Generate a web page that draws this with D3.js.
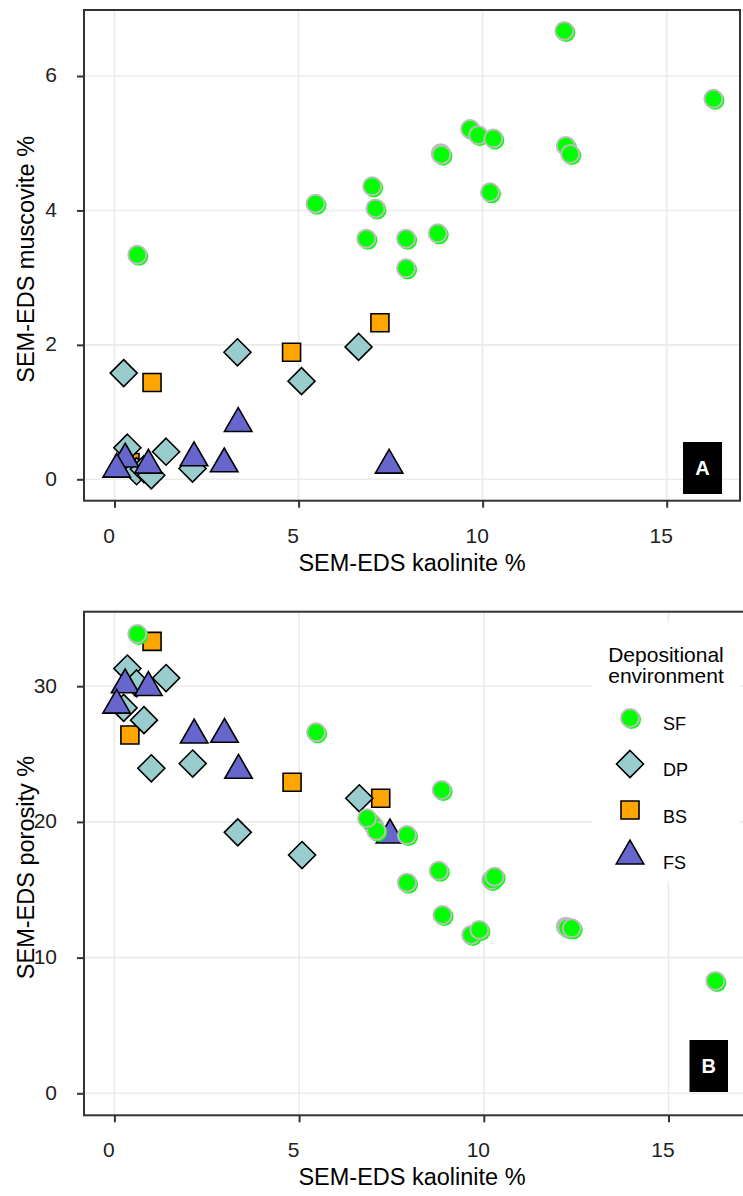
<!DOCTYPE html>
<html>
<head>
<meta charset="utf-8">
<script src="https://cdn.jsdelivr.net/npm/d3@7"></script>
<style>
  html, body { margin: 0; padding: 0; background: #fff; }
  svg { display: block; font-family: "Liberation Sans", Arial, sans-serif; }
</style>
</head>
<body>
<svg id="chart" width="743" height="1196"></svg>
<script>
// ---- data: one entry per sample, grouped by depositional environment ----
// SF
const sfKaolinite = [0.62, 5.46, 7.00, 7.09, 6.84, 7.92, 7.92, 8.78, 8.86, 8.88, 9.66, 9.88, 10.20, 10.29, 12.22, 12.26, 12.38, 16.27];
const sfMuscovite = [3.34, 4.10, 4.36, 4.03, 3.58, 3.58, 3.14, 3.66, 4.85, 4.83, 5.21, 5.12, 4.27, 5.07, 6.67, 4.96, 4.84, 5.66];
const sfPorosity  = [33.85, 26.6, 19.8, 19.35, 20.27, 19.03, 15.52, 16.4, 22.35, 13.14, 11.67, 12.04, 15.72, 15.96, 12.28, 12.2, 12.16, 8.28];
// DP
const dpKaolinite = [0.25, 0.35, 0.60, 0.80, 1.00, 1.40, 2.12, 3.34, 5.08, 6.63];
const dpMuscovite = [1.58, 0.47, 0.12, 0.15, 0.06, 0.41, 0.16, 1.89, 1.46, 1.97];
const dpPorosity  = [28.4, 31.3, 30.2, 27.5, 23.95, 30.6, 24.3, 19.23, 17.56, 21.74];
// BS
const bsKaolinite = [1.02, 0.42, 4.81, 7.21];
const bsMuscovite = [1.44, 0.25, 1.89, 2.33];
const bsPorosity  = [33.3, 26.4, 22.92, 21.74];
// FS
const fsKaolinite = [0.29, 0.06, 0.92, 2.16, 2.98, 3.36, 7.46];
const fsMuscovite = [0.30, 0.15, 0.21, 0.32, 0.23, 0.83, 0.21];
const fsPorosity  = [30.1, 28.6, 29.9, 26.4, 26.45, 23.8, 19.03];

const envNames = ["SF", "DP", "BS", "FS"];
const xTicks = [0, 5, 10, 15];
const muscTicks = [0, 2, 4, 6];
const poroTicks = [0, 10, 20, 30];

const colors = { SF: "#00ff00", DP: "#99cccc", BS: "#ffa500", FS: "#6666cc" };

const svg = d3.select("#chart");

// marker shapes (centred on the data point)
function diamondPath(h) { return `M0,${-h}L${h},0L0,${h}L${-h},0Z`; }
function squarePath(s) { return `M${-s/2},${-s/2}H${s/2}V${s/2}H${-s/2}Z`; }
function trianglePath(u) {
  const top = -1.555 * u, base = 0.778 * u, hw = 1.347 * u;
  return `M0,${top}L${hw},${base}L${-hw},${base}Z`;
}

function drawMarker(g, env, cx, cy) {
  if (env === "SF") {
    g.append("circle").attr("cx", cx + 1.5).attr("cy", cy + 1.5).attr("r", 9.5).attr("fill", colors.SF);
    g.append("circle").attr("cx", cx).attr("cy", cy).attr("r", 9)
      .attr("fill", colors.SF).attr("stroke", "#bdbdbd").attr("stroke-width", 2);
  } else {
    const d = env === "DP" ? diamondPath(13.5) : env === "BS" ? squarePath(18) : trianglePath(10.2);
    g.append("path").attr("d", d).attr("transform", `translate(${cx},${cy})`)
      .attr("fill", colors[env]).attr("stroke", "#000").attr("stroke-width", 1.6)
      .attr("stroke-linejoin", "miter");
  }
}

function buildPanel(opts) {
  const { box, x, y, yTicks, yTitle, series, tag, tagBox } = opts;
  const g = svg.append("g");
  const clipId = "clip" + tag;
  svg.append("clipPath").attr("id", clipId).append("rect")
    .attr("x", box.l).attr("y", box.t).attr("width", box.r - box.l).attr("height", box.b - box.t);

  // grid
  const grid = g.append("g").attr("stroke", "#ebebeb").attr("stroke-width", 1.6);
  xTicks.forEach(v => grid.append("line").attr("x1", x(v)).attr("x2", x(v)).attr("y1", box.t).attr("y2", box.b));
  yTicks.forEach(v => grid.append("line").attr("x1", box.l).attr("x2", box.r).attr("y1", y(v)).attr("y2", y(v)));

  // legend background sits above the grid
  if (opts.legend) opts.legend(g);

  // points (BS, DP, FS, SF drawing order)
  const pts = g.append("g").attr("clip-path", `url(#${clipId})`);
  ["BS", "DP", "FS", "SF"].forEach(env => {
    const s = series[env];
    s.x.forEach((xv, i) => drawMarker(pts, env, x(xv), y(s.y[i])));
  });

  // panel tag
  g.append("rect").attr("x", tagBox.x).attr("y", tagBox.y).attr("width", tagBox.w).attr("height", tagBox.h).attr("fill", "#000");
  g.append("text").attr("x", tagBox.x + tagBox.w / 2).attr("y", tagBox.y + tagBox.h / 2 + 7)
    .attr("text-anchor", "middle").attr("fill", "#fff").attr("font-weight", "bold").attr("font-size", 20).text(tag);

  // frame
  g.append("rect").attr("x", box.l).attr("y", box.t).attr("width", box.r - box.l).attr("height", box.b - box.t)
    .attr("fill", "none").attr("stroke", "#333").attr("stroke-width", 2);

  // axes
  const xa = g.append("g").attr("transform", `translate(0,${box.b})`)
    .call(d3.axisBottom(x).tickValues(xTicks).tickSize(7).tickPadding(16).tickFormat(d3.format("d")));
  const ya = g.append("g").attr("transform", `translate(${box.l},0)`)
    .call(d3.axisLeft(y).tickValues(yTicks).tickSize(7).tickPadding(20).tickFormat(d3.format("d")));
  [xa, ya].forEach(a => {
    a.select(".domain").remove();
    a.selectAll(".tick line").attr("stroke", "#333").attr("stroke-width", 2);
    a.selectAll(".tick text").attr("fill", "#222").attr("font-size", 21).attr("font-family", "Liberation Sans, Arial, sans-serif");
  });
  xa.selectAll(".tick text").attr("dx", -6).attr("dy", "0.9em");
  ya.selectAll(".tick text").attr("dy", "0.28em");

  // titles
  g.append("text").attr("x", (box.l + 740) / 2).attr("y", box.b + 70)
    .attr("text-anchor", "middle").attr("font-size", 23.5).attr("fill", "#000").text("SEM-EDS kaolinite %");
  g.append("text").attr("transform", `translate(34,${(box.t + box.b) / 2 + 4}) rotate(-90)`)
    .attr("text-anchor", "middle").attr("font-size", 23.5).attr("fill", "#000").text(yTitle);
}

// ---- panel A: muscovite vs kaolinite ----
const boxA = { l: 84, r: 740, t: 10, b: 500.7 };
buildPanel({
  box: boxA,
  x: d3.scaleLinear().domain([0, 15]).range([114.5, 666.7]),
  y: d3.scaleLinear().domain([0, 6]).range([479.3, 76]),
  yTicks: muscTicks,
  yTitle: "SEM-EDS muscovite %",
  tag: "A",
  tagBox: { x: 683, y: 442, w: 39, h: 52 },
  series: {
    SF: { x: sfKaolinite, y: sfMuscovite },
    DP: { x: dpKaolinite, y: dpMuscovite },
    BS: { x: bsKaolinite, y: bsMuscovite },
    FS: { x: fsKaolinite, y: fsMuscovite }
  }
});

// ---- panel B: porosity vs kaolinite ----
const boxB = { l: 84, r: 746, t: 611.7, b: 1115.3 };
buildPanel({
  box: boxB,
  x: d3.scaleLinear().domain([0, 15]).range([114.4, 668.5]),
  y: d3.scaleLinear().domain([0, 30]).range([1093.3, 686.2]),
  yTicks: poroTicks,
  yTitle: "SEM-EDS porosity %",
  tag: "B",
  tagBox: { x: 689.5, y: 1040, w: 38.5, h: 52 },
  series: {
    SF: { x: sfKaolinite, y: sfPorosity },
    DP: { x: dpKaolinite, y: dpPorosity },
    BS: { x: bsKaolinite, y: bsPorosity },
    FS: { x: fsKaolinite, y: fsPorosity }
  },
  legend: g => {
    const lg = g.append("g");
    lg.append("rect").attr("x", 592).attr("y", 623).attr("width", 148).attr("height", 258).attr("fill", "#fff");
    lg.append("text").attr("x", 666).attr("y", 662).attr("text-anchor", "middle").attr("font-size", 21).attr("fill", "#000").text("Depositional");
    lg.append("text").attr("x", 666).attr("y", 683).attr("text-anchor", "middle").attr("font-size", 21).attr("fill", "#000").text("environment");
    const keyMarkY = d3.scalePoint().domain(envNames).range([718, 856]);
    const keyTextY = d3.scalePoint().domain(envNames).range([723, 862]);
    envNames.forEach(env => {
      drawMarker(lg, env, 630, keyMarkY(env));
      lg.append("text").attr("x", 663).attr("y", keyTextY(env) + 7)
        .attr("font-size", 18).attr("fill", "#000").text(env);
    });
  }
});
</script>
</body>
</html>
